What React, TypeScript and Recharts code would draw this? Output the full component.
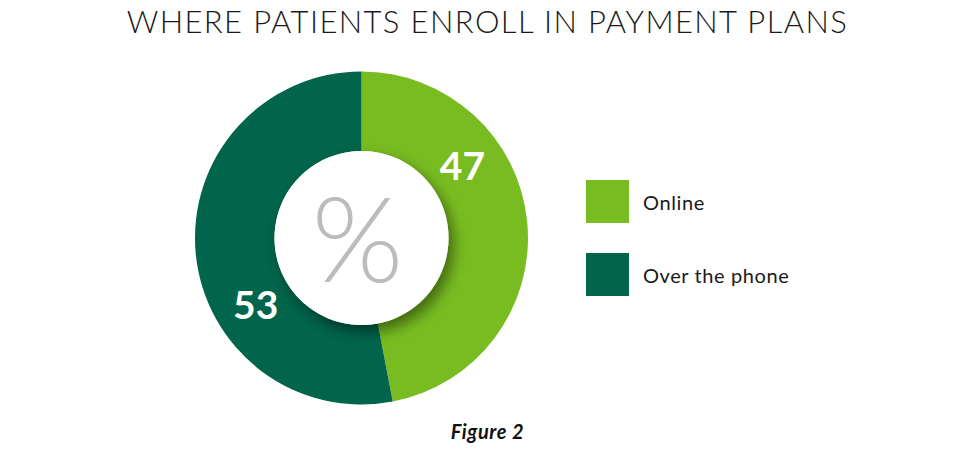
import React from 'react';
import { PieChart, Pie, Cell, Legend, Label } from 'recharts';

const categories = ['Online', 'Over the phone'];
const shares = [47, 53];
const colors = ['#78BC21', '#00654A'];
// where the numbers sit on the ring, degrees clockwise from 12 o'clock
const labelAngles = [54, 238];

const data = categories.map((name, i) => ({ name, value: shares[i] }));
const hub = [{ name: 'hub', value: 1 }];

const FONT = 'Lato, "Open Sans", sans-serif';
const CX = 361.5;
const CY = 238;
const INNER = 87;
const OUTER = 166.5;

function renderValue(props: any) {
  const { cx, cy, index, value } = props;
  const a = (labelAngles[index] * Math.PI) / 180;
  const r = (INNER + OUTER) / 2 - 2;
  return (
    <text
      x={cx + r * Math.sin(a)}
      y={cy - r * Math.cos(a)}
      fill="#fff"
      textAnchor="middle"
      dominantBaseline="central"
      fontFamily={FONT}
      fontWeight={700}
      fontSize={39}
    >
      {value}
    </text>
  );
}

function LegendBox({ payload }: { payload?: Array<{ value: string; color?: string }> }) {
  const items = (payload || []).filter(p => categories.includes(p.value));
  return (
    <div style={{ fontFamily: FONT }}>
      {items.map((item, i) => (
        <div key={item.value} style={{ display: 'flex', alignItems: 'center', height: 43, marginBottom: i === 0 ? 30 : 0 }}>
          <div style={{ width: 43, height: 43, background: colors[categories.indexOf(item.value)] }} />
          <span style={{ marginLeft: 14, fontSize: 20, letterSpacing: 0.6, color: '#1a1a1a' }}>{item.value}</span>
        </div>
      ))}
    </div>
  );
}

export default function App() {
  return (
    <div style={{ position: 'absolute', left: 0, top: 0, width: 975, height: 451, background: '#fff', fontFamily: FONT }}>
      <div
        style={{
          position: 'absolute',
          top: 6,
          left: 0,
          width: 975,
          textAlign: 'center',
          fontSize: 31,
          fontWeight: 300,
          letterSpacing: 1.4,
          color: '#1a1a1a',
          lineHeight: 1,
        }}
      >
        WHERE PATIENTS ENROLL IN PAYMENT PLANS
      </div>
      <PieChart
        width={975}
        height={451}
        margin={{ top: 0, right: 0, bottom: 0, left: 0 }}
        style={{ position: 'absolute', left: 0, top: 0 }}
      >
        <defs>
          <filter id="hubShadow" x="-30%" y="-30%" width="160%" height="160%">
            <feDropShadow dx={5} dy={7} stdDeviation={7} floodColor="#000" floodOpacity={0.45} />
          </filter>
        </defs>
        <Pie
          data={data}
          dataKey="value"
          nameKey="name"
          cx={CX}
          cy={CY}
          innerRadius={INNER}
          outerRadius={OUTER}
          startAngle={90}
          endAngle={-270}
          stroke="none"
          label={renderValue}
          labelLine={false}
          isAnimationActive={false}
        >
          {data.map((d, i) => (
            <Cell key={d.name} fill={colors[i]} />
          ))}
        </Pie>
        <Pie
          data={hub}
          dataKey="value"
          cx={CX}
          cy={CY}
          innerRadius={0}
          outerRadius={INNER}
          stroke="none"
          legendType="none"
          isAnimationActive={false}
        >
          <Cell fill="#fff" filter="url(#hubShadow)" />
          <Label value="%" position="center" dy={15} fill="#bcbcbc" fontSize={118} fontWeight={300} fontFamily={FONT} />
        </Pie>
        <Legend
          layout="vertical"
          verticalAlign="middle"
          align="right"
          content={<LegendBox />}
          wrapperStyle={{ left: 586, top: 180, width: 260, right: 'auto' }}
        />
      </PieChart>
      <div
        style={{
          position: 'absolute',
          top: 421,
          left: 0,
          width: 975,
          textAlign: 'center',
          fontSize: 20,
          fontWeight: 700,
          fontStyle: 'italic',
          letterSpacing: 0.6,
          color: '#111',
          lineHeight: 1,
        }}
      >
        Figure 2
      </div>
    </div>
  );
}
